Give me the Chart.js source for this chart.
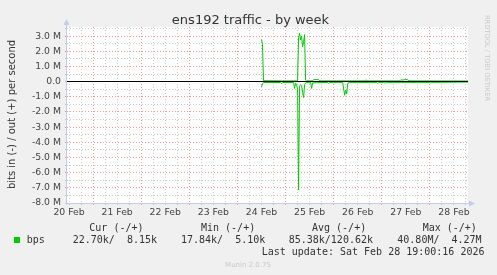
<!DOCTYPE html>
<html>
<head>
<meta charset="utf-8">
<script src="https://cdn.jsdelivr.net/npm/chart.js@4.4.1/dist/chart.umd.min.js"></script>
<style>
html,body{margin:0;padding:0;background:#f0f0f0;}
canvas{display:block;}
</style>
</head>
<body>
<canvas id="trafficChart" width="497" height="275"></canvas>
<script>

/* =====================
   Data (hours since 20 Feb 00:00, values in Mbit/s)
===================== */

const chartTitle="ens192 traffic - by week";
const yAxisTitle="bits in (-) / out (+) per second";
const watermark="RRDTOOL / TOBI OETIKER";
const footer="Munin 2.0.75";

const dayLabels=["20 Feb","21 Feb","22 Feb","23 Feb","24 Feb","25 Feb","26 Feb","27 Feb","28 Feb"];

const outHours=[108,108.5,109,118,126,126.5,127,127.5,128,128.5,129,129.5,130,130.5,133.5,134,136.5,137,159.5,160,160.5,177,177.5,178.5,179.5,181,181.5,211];
const outValues=[2.78,2.45,0.06,0.05,0.05,2.9,3.2,2.75,3.0,2.3,2.6,3.1,0.1,0.05,0.05,0.13,0.13,0.05,0.05,0.12,0.05,0.05,0.12,0.1,0.13,0.12,0.05,0.04];

const inHours=[108,108.5,109,117.5,118,118.5,124,124.5,125,125.5,126,126.5,127,127.5,128,128.5,129,129.5,130,130.5,132.5,133,133.5,141,141.5,142,148.5,149,149.5,150,150.5,151,151.5,165.5,166,166.5,169,169.75,170.5,192,192.5,193,211];
const inValues=[-0.35,-0.15,-0.06,-0.06,-0.12,-0.06,-0.06,-0.45,-0.1,-0.2,-0.5,-7.15,-0.3,-0.2,-0.25,-0.7,-1.05,-0.2,-0.1,-0.05,-0.05,-0.45,-0.08,-0.05,-0.13,-0.05,-0.05,-0.5,-0.9,-0.55,-0.8,-0.15,-0.05,-0.05,-0.12,-0.05,-0.05,-0.1,-0.05,-0.05,-0.1,-0.05,-0.03];

const legendHeads=["Cur (-/+)","Min (-/+)","Avg (-/+)","Max (-/+)"];
const legendValues=["22.70k/  8.15k","17.84k/  5.10k","85.38k/120.62k","40.80M/  4.27M"];
const seriesName="bps";
const lastUpdate="Last update: Sat Feb 28 19:00:16 2026";

/* =====================
   Helpers
===================== */

const green="#00cc00";
const majorGrid="rgba(240,90,90,0.65)";
const minorGrid="rgba(150,150,150,0.5)";
const textColor="#333333";

function points(hours,values){
return hours.map((h,i)=>({x:h,y:values[i]}));
}

function isWhole(v){
return Math.abs(v-Math.round(v))<1e-9;
}

/* =====================
   Munin decorations
===================== */

const muninPlugin={
id:"munin",
beforeDraw(chart){
const c=chart.ctx;
const a=chart.chartArea;
c.save();
c.fillStyle="#f0f0f0";
c.fillRect(0,0,chart.width,chart.height);
c.fillStyle="#ffffff";
c.fillRect(a.left,a.top,a.right-a.left,a.bottom-a.top);
c.restore();
},
afterDatasetsDraw(chart){
const c=chart.ctx;
const a=chart.chartArea;
const y0=Math.floor(chart.scales.y.getPixelForValue(0))+0.5;
c.save();
c.strokeStyle="#000000";
c.lineWidth=1;
c.beginPath();
c.moveTo(a.left,y0);
c.lineTo(a.right,y0);
c.stroke();
c.restore();
},
afterDraw(chart){
const c=chart.ctx;
const a=chart.chartArea;
c.save();

// axes with arrows
c.strokeStyle="#c4ccee";
c.fillStyle="#c4ccee";
c.lineWidth=1;
c.beginPath();
c.moveTo(a.left-0.5,a.bottom+2);
c.lineTo(a.left-0.5,a.top-3);
c.moveTo(a.left-2,a.bottom+0.5);
c.lineTo(a.right+2,a.bottom+0.5);
c.stroke();
c.beginPath();
c.moveTo(a.left-3.5,a.top-2);
c.lineTo(a.left+2.5,a.top-2);
c.lineTo(a.left-0.5,a.top-8);
c.closePath();
c.fill();
c.beginPath();
c.moveTo(a.right+1,a.bottom-2.5);
c.lineTo(a.right+1,a.bottom+3.5);
c.lineTo(a.right+7,a.bottom+0.5);
c.closePath();
c.fill();

// title
c.fillStyle=textColor;
c.font="13px 'DejaVu Sans'";
c.textAlign="center";
c.textBaseline="alphabetic";
c.fillText(chartTitle,250.5,24);

// y axis title
c.save();
c.translate(15,114.5);
c.rotate(-Math.PI/2);
c.font="10px 'DejaVu Sans'";
c.textAlign="center";
c.fillText(yAxisTitle,0,0);
c.restore();

// watermark
c.save();
c.translate(485,58);
c.rotate(Math.PI/2);
c.fillStyle="#c8c8c8";
c.font="6.7px 'DejaVu Sans'";
c.textAlign="center";
c.fillText(watermark,0,0);
c.restore();

// legend
c.font="10px 'DejaVu Sans Mono'";
c.textAlign="left";
c.fillStyle=textColor;
const headX=[89.3,201,312,422.7];
const valX=[72.7,181,288.7,397.3];
legendHeads.forEach((t,i)=>c.fillText(t,headX[i],230.5));
legendValues.forEach((t,i)=>c.fillText(t,valX[i],243));
c.fillText(seriesName,26.7,243);
c.fillText(lastUpdate,261.7,255);
c.fillStyle=green;
c.fillRect(14,237,6,6);

// footer
c.fillStyle="#c8c8c8";
c.font="7px 'DejaVu Sans'";
c.textAlign="center";
c.fillText(footer,248,267);

c.restore();
}
};

/* =====================
   Chart
===================== */

const ctx=document.getElementById("trafficChart").getContext("2d");

const trafficChart=new Chart(ctx,{

type:"line",

data:{
datasets:[
{
label:"bps out",
data:points(outHours,outValues),
borderColor:green,
borderWidth:1,
pointRadius:0,
tension:0
},
{
label:"bps in",
data:points(inHours,inValues),
borderColor:green,
borderWidth:1,
pointRadius:0,
tension:0
}
]
},

options:{
responsive:false,
animation:false,
events:[],
layout:{padding:{top:27,right:29,bottom:0,left:0}},
plugins:{
legend:{display:false},
title:{display:false},
tooltip:{enabled:false}
},
scales:{
x:{
type:"linear",
min:11,
max:211,
afterBuildTicks(scale){
const t=[];
for(let h=12;h<=210;h+=6) t.push({value:h});
scale.ticks=t;
},
afterFit(scale){scale.height=72;},
grid:{
color:c=>c.tick&&c.tick.value%24===0?majorGrid:minorGrid,
lineWidth:1,
tickLength:2
},
border:{display:false,dash:[1,2]},
ticks:{
autoSkip:false,
maxRotation:0,
padding:2,
color:"#444444",
font:{family:"DejaVu Sans",size:9.3},
callback:v=>v%24===12?dayLabels[Math.floor(v/24)]:""
}
},
y:{
type:"linear",
min:-8,
max:3.6,
afterBuildTicks(scale){
const t=[];
for(let v=-8;v<=3.5;v+=0.5) t.push({value:v});
scale.ticks=t;
},
afterFit(scale){scale.width=67;},
grid:{
color:c=>c.tick&&isWhole(c.tick.value)?majorGrid:minorGrid,
lineWidth:1,
tickLength:2
},
border:{display:false,dash:[1,2]},
ticks:{
autoSkip:false,
padding:4,
color:"#444444",
font:{family:"DejaVu Sans",size:9.3},
callback:v=>!isWhole(v)?"":(Math.round(v)===0?"0.0":v.toFixed(1)+" M")
}
}
}
},

plugins:[muninPlugin]

});

</script>
</body>
</html>
